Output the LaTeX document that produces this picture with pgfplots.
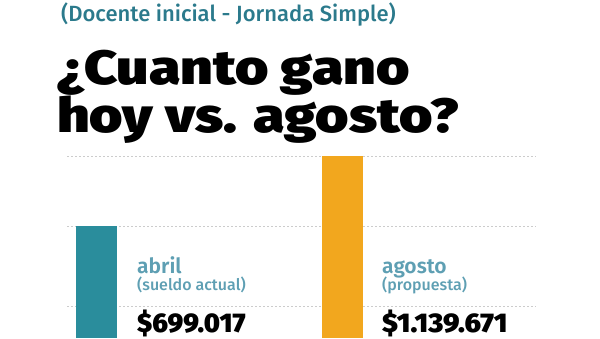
\documentclass[border=0pt]{standalone}
\usepackage{pgfplots}
\pgfplotsset{compat=1.18}
\usepackage{fontspec}
\setmainfont{Fira Sans}
\newfontfamily\heavy{Fira Sans}[UprightFont={* Black}]
\newfontfamily\medium{Fira Sans}[UprightFont={* Medium}]
\newfontfamily\semi{Fira Sans}[UprightFont={* SemiBold}]
\definecolor{barteal}{HTML}{2A8D9C}
\definecolor{barorange}{HTML}{F2A71E}
\definecolor{labteal}{HTML}{5E9FB3}
\definecolor{subteal}{HTML}{2B7A8C}
\begin{document}
\begin{tikzpicture}[x=1bp,y=1bp]
\useasboundingbox (0,0) rectangle (600,338);
\begin{axis}[
  at={(67bp,0bp)}, anchor=south west,
  scale only axis, width=469bp, height=182bp,
  xmin=67, xmax=536, ymin=0, ymax=1139671,
  axis line style={draw=none},
  major tick length=0pt,
  scaled y ticks=false,
  ytick={200000,699017,1139671},
  ymajorgrids, grid style={gray!40, dash pattern=on 2bp off 2bp, line width=0.6bp},
  xtick=\empty, yticklabels={},
  clip=false,
]
\addplot[ybar, bar width=41, fill=barteal, draw=none] coordinates {(96.5,699017)};
\addplot[ybar, bar width=41, fill=barorange, draw=none] coordinates {(342.5,1139671)};
\end{axis}
% titles
\node[anchor=base west, inner sep=0, text=subteal] at (61,317) {\fontsize{22bp}{24bp}\medium (Docente inicial - Jornada Simple)};
\node[anchor=base west, inner sep=0] at (57,254) {\scalebox{1.19}[1]{\fontsize{48bp}{50bp}\heavy ¿Cuanto gano}};
\node[anchor=base west, inner sep=0] at (57,206) {\scalebox{1.19}[1]{\fontsize{48bp}{50bp}\heavy hoy vs. agosto?}};
% bar labels
\node[anchor=base west, inner sep=0, text=labteal] at (137,65) {\fontsize{21bp}{22bp}\semi abril};
\node[anchor=base west, inner sep=0, text=labteal] at (137,48) {\fontsize{16bp}{17bp}\medium (sueldo actual)};
\node[anchor=base west, inner sep=0] at (137,6) {\fontsize{27bp}{28bp}\heavy \$699.017};
\node[anchor=base west, inner sep=0, text=labteal] at (382,65) {\fontsize{21bp}{22bp}\semi agosto};
\node[anchor=base west, inner sep=0, text=labteal] at (382,48) {\fontsize{16bp}{17bp}\medium (propuesta)};
\node[anchor=base west, inner sep=0] at (382,6) {\scalebox{1.05}[1]{\fontsize{27bp}{28bp}\heavy \$1.139.671}};
\end{tikzpicture}
\end{document}
